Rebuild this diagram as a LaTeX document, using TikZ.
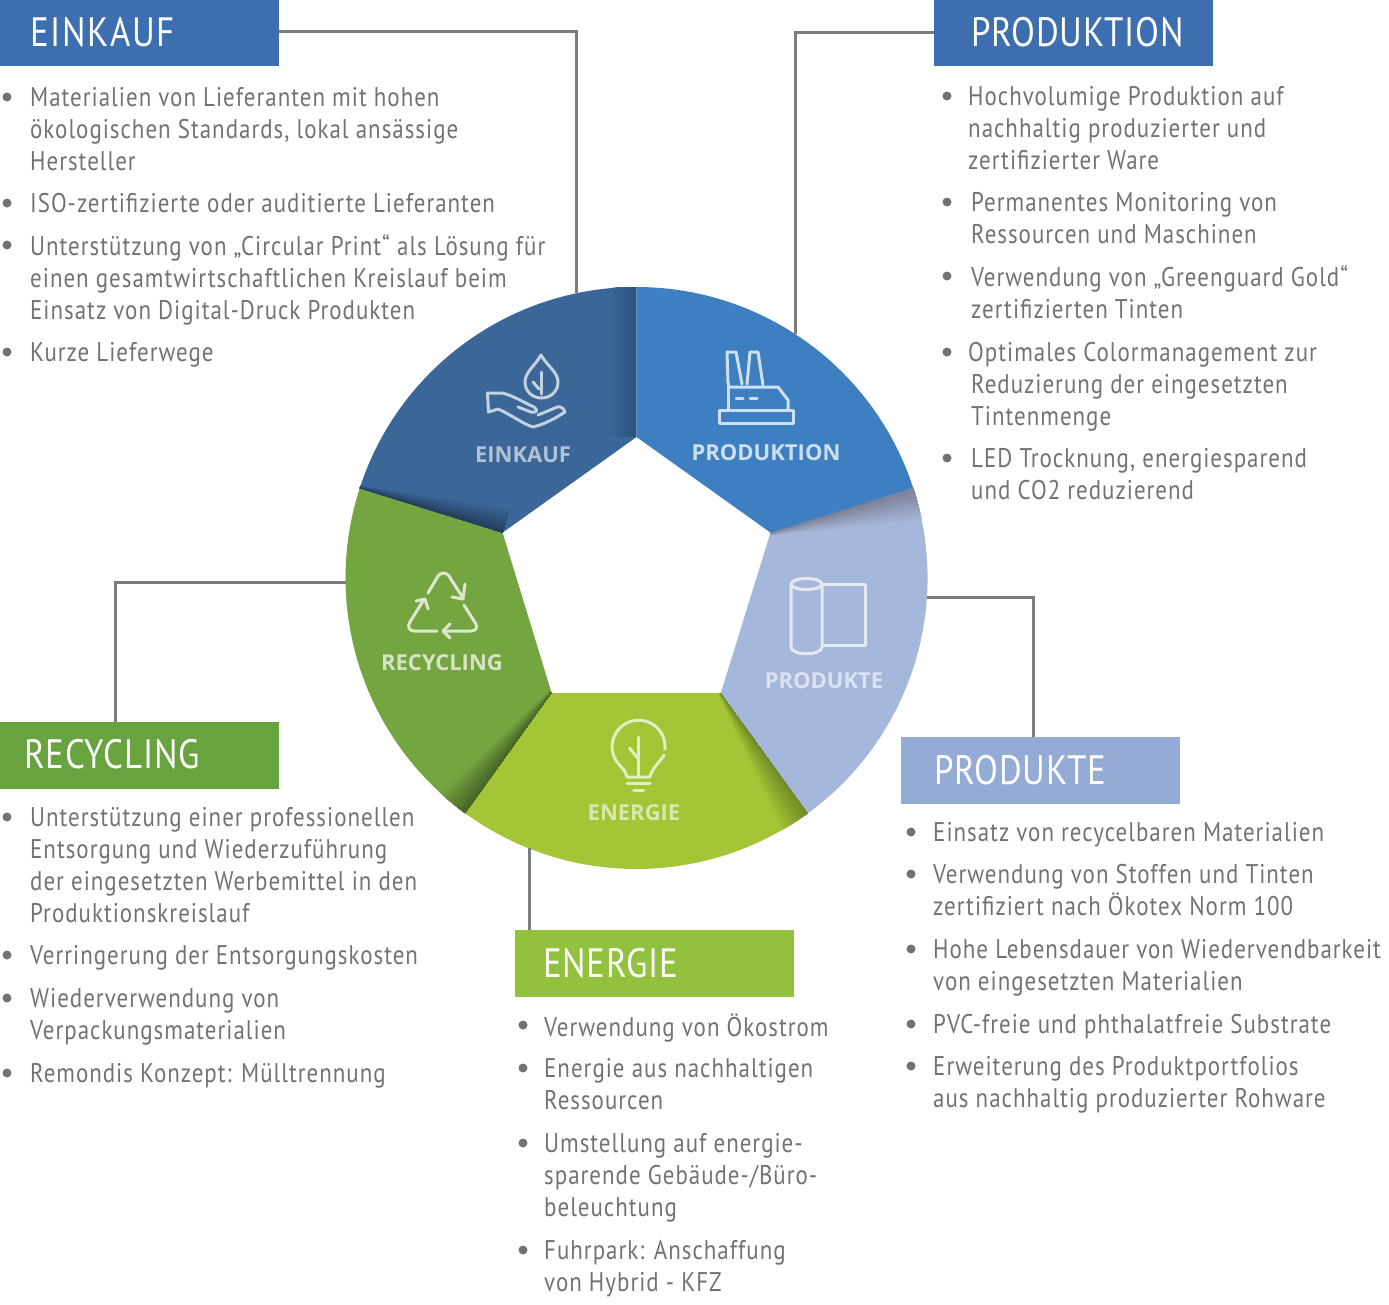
\documentclass[tikz,border=0pt]{standalone}
\usepackage{fontspec}
\setmainfont{PT Sans}
\newfontfamily\bodyfont{PT Sans}[FakeStretch=0.85,LetterSpace=3.7]
\newfontfamily\headfont{PT Sans}[FakeStretch=0.85,LetterSpace=2]
\newfontfamily\headwide{PT Sans}[FakeStretch=0.85,LetterSpace=4.5]
\newfontfamily\ringfont{Open Sans}[FakeStretch=1.0]
\definecolor{txt}{HTML}{707275}
\definecolor{conn}{HTML}{7C7C7C}
\definecolor{boxblue}{HTML}{3C6EB0}
\definecolor{boxgreen}{HTML}{68A33F}
\definecolor{boxperi}{HTML}{94ABD6}
\definecolor{boxlime}{HTML}{92C13E}
\definecolor{secA}{HTML}{3A6698}
\definecolor{secB}{HTML}{3D7FC0}
\definecolor{secC}{HTML}{A5B7DA}
\definecolor{secD}{HTML}{A3C536}
\definecolor{secE}{HTML}{74A540}
\definecolor{secCdark}{HTML}{7F7F95}
\tikzset{
  headbox/.style={fill=#1,minimum width=279pt,minimum height=67pt,inner sep=0pt,outer sep=0pt,anchor=north west},
  headtext/.style={text=white,font=\headfont\fontsize{41}{41}\selectfont,inner sep=0pt,anchor=base west},
  itemtext/.style={text=txt,font=\bodyfont\fontsize{27}{32}\selectfont,align=left,inner sep=0pt,anchor=north west},
  bulletdot/.style={circle,fill=txt,minimum size=9pt,inner sep=0pt},
  conline/.style={draw=conn,line width=3pt},
  ringlabel/.style={font=\ringfont\bfseries\fontsize{22}{22}\selectfont,inner sep=0pt},
  iconline/.style={line width=3pt,line cap=round,line join=round},
}
\newcommand\itm[5]{%
  \node[bulletdot] (#1-b) at (#2,#4) {};
  \node[itemtext] (#1) at (#3,#4-11.2) {\rule{0pt}{20pt}#5};}
\newcommand\edgeshade[8]{% x y angle L w1 w2 dark base
  \begin{scope}[shift={(#1,#2)},rotate=#3]
  \foreach \i in {0,...,23}{%
    \pgfmathsetmacro\ff{1-\i/24}%
    \pgfmathsetmacro\pp{100*(1-\ff)}%
    \fill[#7!\pp!#8] (0,0)--(#4,0)--(#4,#6*\ff)--(0,#5*\ff)--cycle;
  }
  \end{scope}}
\begin{document}
\begin{tikzpicture}[x=1pt,y=1pt,yscale=-1]
\useasboundingbox (0,0) rectangle (1389,1304);
% ring points
\coordinate (OT) at (636.5,287);
\coordinate (OR) at (913.3,488.1);
\coordinate (OBR) at (807.5,813.4);
\coordinate (OBL) at (465.5,813.4);
\coordinate (OL) at (359.7,488.1);
\coordinate (IT) at (636.5,437);
\coordinate (IR) at (770.5,532.6);
\coordinate (IBR) at (720.8,693);
\coordinate (IBL) at (551.6,693);
\coordinate (IL) at (502.6,532.6);
% sectors
\def\secA{(OT) arc[start angle=-90,end angle=-162,radius=291pt] -- (IL) -- (IT) -- cycle}
\def\secB{(OT) arc[start angle=-90,end angle=-18,radius=291pt] -- (IR) -- (IT) -- cycle}
\def\secC{(OR) arc[start angle=-18,end angle=54,radius=291pt] -- (IBR) -- (IR) -- cycle}
\def\secD{(OBR) arc[start angle=54,end angle=126,radius=291pt] -- (IBL) -- (IBR) -- cycle}
\def\secE{(OBL) arc[start angle=126,end angle=198,radius=291pt] -- (IL) -- (IBL) -- cycle}
\fill[secC] \secC;
\begin{scope}\clip \secC; \edgeshade{770.5}{532.6}{-17.1}{160}{3}{36}{secCdark}{secC}\end{scope}
\fill[secD] \secD;
\begin{scope}\clip \secD; \edgeshade{720.8}{693}{53.7}{150}{3}{34}{secD!68!black}{secD}\end{scope}
\fill[secE] \secE;
\begin{scope}\clip \secE; \edgeshade{551.6}{693}{125.7}{150}{3}{34}{secE!60!black}{secE}\end{scope}
\fill[secA] \secA;
\begin{scope}\clip \secA; \edgeshade{636.5}{287}{90}{150}{26}{26}{secA!78!black}{secA}
\edgeshade{502.6}{532.6}{197.2}{150}{26}{3}{secA!60!black}{secA}\end{scope}
\fill[secB] \secB;
% icons: hand and drop
\begin{scope}[iconline,draw=white!70!secA]
\draw (541,355) .. controls (535,366) and (525,372) .. (525,382) .. controls (525,392) and (533,398) .. (541.5,398) .. controls (550,398) and (558,392) .. (558,382) .. controls (558,372) and (547,366) .. (541,355) -- cycle;
\draw (541,372) -- (541,394);
\draw (533,382) -- (539,389);
\draw (487.5,393) -- (502,393) .. controls (512,395) and (525,403) .. (534,407) .. controls (539,411) and (536,413) .. (531,412) -- (518,407);
\draw (487.5,393) -- (488.5,412) -- (498,409) .. controls (510,414) and (523,424) .. (533,427) .. controls (545,424) and (556,418) .. (565,412) .. controls (563,406) and (558,406) .. (555,408) -- (538,415);
\end{scope}
% factory
\begin{scope}[iconline,draw=white!75!secB]
\draw (728,383) -- (727,352) -- (736,352) -- (742,384);
\draw (747,384) -- (750,352) -- (758,352) -- (763,385);
\draw (728,387) -- (778,387) -- (788,400) -- (788,410);
\draw (728,383) -- (728,410);
\draw (736,398) -- (743,398);
\draw (750,398) -- (757,398);
\draw (719.5,410) rectangle (793,423);
\end{scope}
% recycling
\begin{scope}[iconline,draw=white!75!secE]
\draw (428,593) -- (438,576) .. controls (441,572) and (446,572) .. (449,576) -- (463,598);
\draw (465,584) -- (463,599) -- (452,597);
\draw (464,605) -- (476,624) .. controls (478,629) and (475,631) .. (470,631) -- (445,631);
\draw (450,624) -- (443,631) -- (450,638);
\draw (437,631) -- (414,631) .. controls (409,631) and (407,626) .. (410,622) -- (423,601);
\draw (416,601) -- (425,599) -- (428,609);
\end{scope}
% roll
\begin{scope}[iconline,draw=white!70!secC]
\draw (791,584) -- (791,647) .. controls (791,656) and (822,656) .. (822,647) -- (822,584);
\draw (806.5,584) ellipse[x radius=15.5pt,y radius=5.5pt];
\draw (822,584) -- (865,584) -- (865,645) -- (822,645);
\end{scope}
% bulb
\begin{scope}[iconline,draw=white!70!secD]
\draw (665,749) arc[start angle=5,end angle=-215,radius=26.5pt] .. controls (621,767) and (626,771) .. (627,777) -- (650,777) .. controls (652,768) and (660,762) .. (664,755);
\draw (627,783.5) -- (650,783.5);
\draw (633.5,790) -- (643.5,790);
\draw (638.5,737) -- (638.5,777);
\draw (629.5,748) -- (637.5,758);
\end{scope}
% ring labels
\node[ringlabel,text=white!60!secA] (rEinkauf) at (523,455) {EINKAUF};
\node[ringlabel,text=white!75!secB] (rProduktion) at (766,453) {PRODUKTION};
\node[ringlabel,text=white!70!secE] (rRecycling) at (442,663) {RECYCLING};
\node[ringlabel,text=white!60!secC] (rProdukte) at (824,681) {PRODUKTE};
\node[ringlabel,text=white!60!secD] (rEnergie) at (634,813) {ENERGIE};
% header boxes
\node[headbox=boxblue,minimum height=66pt] (bEinkauf) at (0,0) {};
\node[headbox=boxblue,minimum height=66pt] (bProduktion) at (934,0) {};
\node[headbox=boxgreen] (bRecycling) at (0,722) {};
\node[headbox=boxperi] (bProdukte) at (901,737) {};
\node[headbox=boxlime] (bEnergie) at (515,930) {};
\node[headtext,font=\headwide\fontsize{41}{41}\selectfont] (tEinkauf) at (30,46) {EINKAUF};
\node[headtext] (tProduktion) at (971,46) {PRODUKTION};
\node[headtext] (tRecycling) at (24,768) {RECYCLING};
\node[headtext] (tProdukte) at (934,784) {PRODUKTE};
\node[headtext] (tEnergie) at (543,977) {ENERGIE};
% connectors
\coordinate (eEinkauf) at (576,293);
\coordinate (eProduktion) at (795,334);
\coordinate (eRecycling) at (346,582);
\coordinate (eProdukte) at (927,597);
\coordinate (eEnergie) at (529,848);
\coordinate (kEinkauf) at (279,31);
\coordinate (kProduktion) at (934,32);
\draw[conline] (kEinkauf) -| (eEinkauf);
\draw[conline] (kProduktion) -| (eProduktion);
\draw[conline] (bRecycling.north -| 115,0) |- (eRecycling);
\draw[conline] (bProdukte.north -| 1033,0) |- (eProdukte);
\draw[conline] (bEnergie.north -| 529,0) -- (eEnergie);
% lists
\itm{e1}{7}{30}{97}{Materialien von Lieferanten mit hohen\\ökologischen Standards, lokal ansässige\\Hersteller}
\itm{e2}{7}{30}{203}{ISO-zertifizierte oder auditierte Lieferanten}
\itm{e3}{7}{30}{245}{Unterstützung von „Circular Print“ als Lösung für\\einen gesamtwirtschaftlichen Kreislauf beim\\Einsatz von Digital-Druck Produkten}
\itm{e4}{7}{30}{352}{Kurze Lieferwege}
\itm{p1}{947}{968}{96}{Hochvolumige Produktion auf\\nachhaltig produzierter und\\zertifizierter Ware}
\itm{p2}{947}{971}{202}{Permanentes Monitoring von\\Ressourcen und Maschinen}
\itm{p3}{947}{971}{276}{Verwendung von „Greenguard Gold“\\zertifizierten Tinten}
\itm{p4}{947}{968}{352}{Optimales Colormanagement zur\\\hspace*{3pt}Reduzierung der eingesetzten\\\hspace*{3pt}Tintenmenge}
\itm{p5}{947}{971}{458}{LED Trocknung, energiesparend\\und CO2 reduzierend}
\itm{r1}{7}{30}{817}{Unterstützung einer professionellen\\Entsorgung und Wiederzuführung\\der eingesetzten Werbemittel in den\\Produktionskreislauf}
\itm{r2}{7}{30}{955}{Verringerung der Entsorgungskosten}
\itm{r3}{7}{30}{998}{Wiederverwendung von\\Verpackungsmaterialien}
\itm{r4}{7}{30}{1073}{Remondis Konzept: Mülltrennung}
\itm{n1}{523}{544}{1025}{Verwendung von Ökostrom}
\itm{n2}{523}{544}{1068}{Energie aus nachhaltigen\\Ressourcen}
\itm{n3}{523}{544}{1143}{Umstellung auf energie-\\sparende Gebäude-/Büro-\\beleuchtung}
\itm{n4}{523}{544}{1250}{Fuhrpark: Anschaffung\\von Hybrid - KFZ}
\itm{d1}{911}{933}{832}{Einsatz von recycelbaren Materialien}
\itm{d2}{911}{933}{874}{Verwendung von Stoffen und Tinten\\zertifiziert nach Ökotex Norm 100}
\itm{d3}{911}{933}{949}{Hohe Lebensdauer von Wiedervendbarkeit\\von eingesetzten Materialien}
\itm{d4}{911}{933}{1024}{PVC-freie und phthalatfreie Substrate}
\itm{d5}{911}{933}{1066}{Erweiterung des Produktportfolios\\aus nachhaltig produzierter Rohware}
\end{tikzpicture}
\end{document}
